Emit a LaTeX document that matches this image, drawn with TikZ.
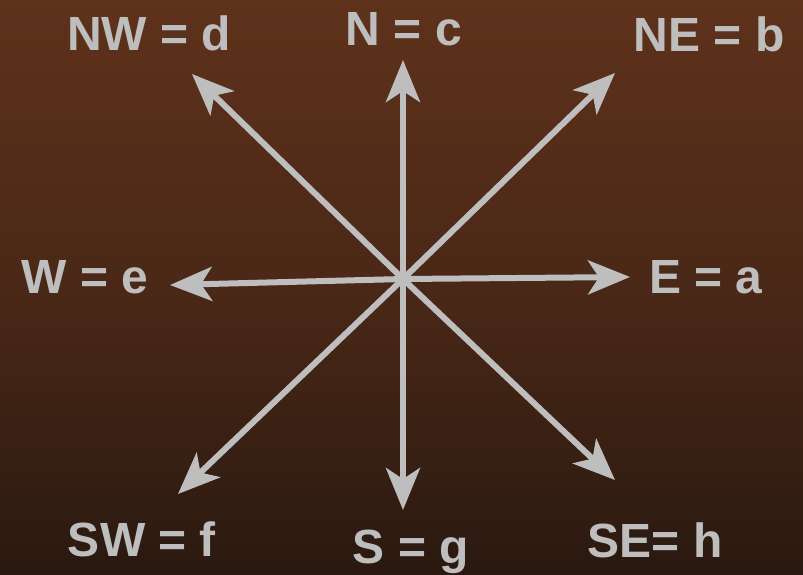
\documentclass[tikz,border=0pt]{standalone}
\usepackage{fontspec}
\setmainfont{Liberation Sans}
\usetikzlibrary{arrows.meta}
\definecolor{woodtop}{RGB}{94,50,27}
\definecolor{woodmid}{RGB}{74,40,23}
\definecolor{woodbot}{RGB}{42,25,16}
\definecolor{ink}{RGB}{190,190,190}
\tikzset{
  dirarrow/.style={draw=ink, line width=6pt, -{Stealth[length=42pt,width=34pt,inset=11pt]}},
  lbl/.style={text=ink, font=\fontsize{48}{48}\selectfont\bfseries, anchor=base, inner sep=0pt}
}
\begin{document}
\begin{tikzpicture}[x=1pt,y=-1pt]
  \shade[top color=woodtop, bottom color=woodbot, middle color=woodmid] (0,0) rectangle (803,574);
  \useasboundingbox (0,0) rectangle (803,574);
  \coordinate (c) at (403,279);
  \coordinate (tN) at (403,60);
  \coordinate (tS) at (403,510);
  \coordinate (tE) at (630,277);
  \coordinate (tW) at (170,285);
  \coordinate (tNE) at (615,73);
  \coordinate (tSW) at (178,494);
  \coordinate (tNW) at (192,74);
  \coordinate (tSE) at (615,480);
  \foreach \t in {tN,tS,tE,tW,tNE,tSW,tNW,tSE}
    \draw[dirarrow] (c) -- (\t);
  \node[lbl] (lN) at (404,45) {N = c};
  \node[lbl] (lNE) at (709,51) {NE = b};
  \node[lbl] (lNW) at (149,50) {NW = d};
  \node[lbl] (lW) at (85,293) {W = e};
  \node[lbl] (lE) at (706,293) {E = a};
  \node[lbl] (lSW) at (142,556) {SW = f};
  \node[lbl] (lS) at (411,563) {S = g};
  \node[lbl] (lSE) at (655,557) {SE= h};
\end{tikzpicture}
\end{document}
